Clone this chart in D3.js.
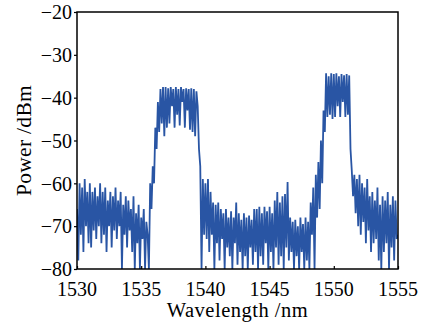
<!DOCTYPE html>
<html><head><meta charset="utf-8">
<script src="https://cdn.jsdelivr.net/npm/d3@7"></script>
<style>
body{margin:0;background:#fff}svg{display:block}
svg text{font-family:"Liberation Serif","Times New Roman","DejaVu Serif",serif !important;fill:#000}
</style>
</head><body><svg id="c" width="434" height="326"></svg>
<script>
const xTicks = [1530, 1535, 1540, 1545, 1550, 1555];
const yTicks = [-80, -70, -60, -50, -40, -30, -20];
const wlStart = 1530, wlStep = 0.1;
// power (dBm), one row per nm, sampled every 0.1 nm
const power = [
 -66,-78,-60,-72,-61,-76,-59,-70,-62,-74,
 -60,-75,-62,-71,-61,-73,-63,-70,-60,-74,
 -62,-72,-61,-76,-64,-70,-62,-75,-63,-71,
 -61,-73,-64,-70,-62,-80,-65,-72,-63,-75,
 -64,-71,-66,-76,-63,-80,-67,-74,-65,-80,
 -68,-73,-66,-80,-69,-72,-80,-60,-66,-56,
 -60,-47,-52,-41,-48,-38,-46,-37.5,-49,-37.5,
 -47,-37.8,-46,-37.5,-42,-38,-47,-37.5,-44,-38,
 -46.5,-37.5,-41,-38,-47,-37.8,-43,-38,-47.5,-37.8,
 -48,-38,-49,-38.5,-42,-52,-56,-80,-59,-72,
 -60,-73,-59,-76,-62,-72,-64.5,-80,-65,-74,
 -64.5,-78,-66,-73,-67,-80,-66,-75,-68,-77,
 -66.5,-80,-68,-74,-64.5,-79,-67,-76,-68.5,-80,
 -67,-77,-68,-80,-67.5,-75,-68.5,-79,-66,-76,
 -66,-80,-65.5,-77,-67,-79,-65.5,-74,-66.5,-80,
 -65.5,-76,-67,-80,-64,-75,-62,-79,-64.5,-77,
 -63,-80,-62.5,-75,-59.7,-78,-68,-76,-69,-80,
 -68.5,-77,-70,-80,-68,-76,-69.5,-80,-68,-78,
 -69,-80,-64.5,-72,-61,-80,-58,-68,-55,-66,
 -50,-60,-43,-48,-34.3,-44.5,-35,-44,-34.3,-45,
 -34.5,-44.5,-34.3,-42,-35,-44.5,-34.5,-41,-34.8,-44.5,
 -34.5,-44,-34.8,-52,-57,-63,-58,-67,-59,-70,
 -58,-72,-60,-69,-61,-74,-59,-71,-63,-76,
 -62,-74,-64,-73,-61,-78,-65,-80,-63,-76,
 -64,-74,-62,-80,-65,-75,-63,-78,-64,-73,
 -72
];
const data = power.map((p, i) => ({wl: wlStart + i * wlStep, p}));

const L = 77, R = 398, T = 12, B = 269;
const svg = d3.select("#c");
const x = d3.scaleLinear().domain([1530, 1555]).range([L, R]);
const y = d3.scaleLinear().domain([-80, -20]).range([B, T]);

svg.append("defs").append("clipPath").attr("id","clip")
  .append("rect").attr("x",L).attr("y",T).attr("width",R-L).attr("height",B-T);

svg.append("path").datum(data)
  .attr("clip-path","url(#clip)")
  .attr("fill","none").attr("stroke","#2955a4").attr("stroke-width",1.8)
  .attr("stroke-linejoin","miter").attr("stroke-miterlimit",2)
  .attr("d", d3.line().x(d => x(d.wl)).y(d => y(d.p)));

const gx = svg.append("g").attr("transform",`translate(0,${B})`)
  .call(d3.axisTop(x).tickValues(xTicks).tickSize(3).tickFormat(d3.format("d")));
gx.selectAll("text").remove();
gx.select(".domain").remove();
gx.selectAll("line").attr("stroke","#000").attr("stroke-width",1.2);
svg.append("g").selectAll("text").data(xTicks).join("text")
  .attr("x", d => x(d)).attr("y", 296).attr("text-anchor","middle")
  .attr("font-size",20).text(d => d);

const gy = svg.append("g").attr("transform",`translate(${L},0)`)
  .call(d3.axisLeft(y).tickValues(yTicks).tickSize(3));
gy.attr("font-family",null).attr("font-size",null);
gy.select(".domain").remove();
gy.selectAll("line").attr("stroke","#000").attr("stroke-width",1.2);
gy.selectAll("text").attr("font-size",20)
  .attr("x",-5).attr("dy","0.34em");

svg.append("rect").attr("x",L).attr("y",T).attr("width",R-L).attr("height",B-T)
  .attr("fill","none").attr("stroke","#000").attr("stroke-width",1.5);

svg.append("text").attr("x",(L+R)/2).attr("y",317).attr("text-anchor","middle")
  .attr("font-size",20.5).attr("letter-spacing","0.5px").text("Wavelength /nm");
svg.append("text").attr("transform",`translate(31,${(T+B)/2}) rotate(-90)`)
  .attr("text-anchor","middle").attr("font-size",21.5).attr("letter-spacing","0.3px")
  .text("Power /dBm");
</script></body></html>
